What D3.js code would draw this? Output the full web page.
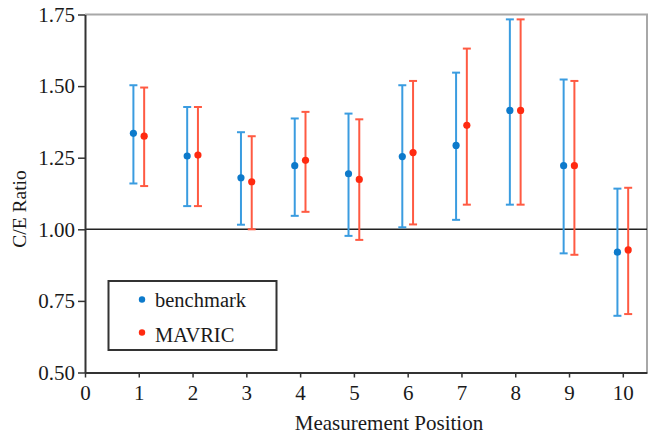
<!DOCTYPE html>
<html>
<head>
<meta charset="utf-8">
<script src="https://cdn.jsdelivr.net/npm/d3@7"></script>
<style>
  body { margin: 0; background: #fff; }
  text { font-family: "Liberation Serif", "Times New Roman", serif; fill: #1a1a1a; }
</style>
</head>
<body>
<div id="chart"></div>
<script>
// measurement positions
const positions = [1, 2, 3, 4, 5, 6, 7, 8, 9, 10];

// benchmark C/E ratio with error range
const benchMid  = [1.335, 1.256, 1.180, 1.222, 1.194, 1.254, 1.293, 1.415, 1.222, 0.920];
const benchLow  = [1.160, 1.081, 1.016, 1.047, 0.977, 1.007, 1.033, 1.086, 0.916, 0.698];
const benchHigh = [1.503, 1.427, 1.339, 1.387, 1.404, 1.503, 1.547, 1.733, 1.523, 1.142];

// MAVRIC C/E ratio with error range
const mavMid  = [1.325, 1.259, 1.166, 1.241, 1.174, 1.268, 1.363, 1.415, 1.222, 0.928];
const mavLow  = [1.151, 1.081, 1.000, 1.061, 0.963, 1.017, 1.086, 1.086, 0.911, 0.704];
const mavHigh = [1.495, 1.427, 1.325, 1.410, 1.384, 1.518, 1.631, 1.733, 1.518, 1.145];

const xTicks = [0, 1, 2, 3, 4, 5, 6, 7, 8, 9, 10];
const yTicks = [0.5, 0.75, 1.0, 1.25, 1.5, 1.75];

const W = 649, H = 434;
const margin = { top: 14.5, right: 2, bottom: 61.5, left: 85 };
const width = W - margin.left - margin.right,
      height = H - margin.top - margin.bottom;

const svg = d3.select("#chart").append("svg")
    .attr("width", W)
    .attr("height", H);

const x = d3.scaleLinear().domain([0, 10.45]).range([0, width]);
const y = d3.scaleLinear().domain([0.5, 1.75]).range([height, 0]);

const g = svg.append("g")
    .attr("transform", "translate(" + margin.left + "," + margin.top + ")");

// frame: top and right light gray
g.append("path")
    .attr("d", "M0,0H" + width + "V" + height)
    .attr("fill", "none")
    .attr("stroke", "#a8a8a8")
    .attr("stroke-width", 2);

// reference line at 1.0
g.append("line")
    .attr("x1", 0).attr("x2", width)
    .attr("y1", y(1)).attr("y2", y(1))
    .attr("stroke", "#222")
    .attr("stroke-width", 1.5);

const series = [
  { name: "benchmark", mid: benchMid, low: benchLow, high: benchHigh, off: -0.1, bar: "#3a9ce0", dot: "#0d7acb" },
  { name: "MAVRIC",    mid: mavMid,   low: mavLow,   high: mavHigh,   off: 0.1,  bar: "#ff5a42", dot: "#ff2a10" }
];

series.forEach(function(s) {
  const data = positions.map(function(p, i) {
    return { p: p, mid: s.mid[i], low: s.low[i], high: s.high[i] };
  });
  const grp = g.append("g").attr("class", "series");
  const eb = grp.selectAll(".eb").data(data).enter().append("g").attr("class", "eb");
  eb.append("line")
      .attr("x1", function(d) { return x(d.p + s.off); })
      .attr("x2", function(d) { return x(d.p + s.off); })
      .attr("y1", function(d) { return y(d.low); })
      .attr("y2", function(d) { return y(d.high); })
      .attr("stroke", s.bar).attr("stroke-width", 2);
  ["low", "high"].forEach(function(k) {
    eb.append("line")
        .attr("x1", function(d) { return x(d.p + s.off) - 4; })
        .attr("x2", function(d) { return x(d.p + s.off) + 4; })
        .attr("y1", function(d) { return y(d[k]); })
        .attr("y2", function(d) { return y(d[k]); })
        .attr("stroke", s.bar).attr("stroke-width", 2);
  });
  eb.append("circle")
      .attr("cx", function(d) { return x(d.p + s.off); })
      .attr("cy", function(d) { return y(d.mid); })
      .attr("r", 3.6)
      .attr("fill", s.dot);
});

// axes
const xAxis = g.append("g")
    .attr("transform", "translate(0," + height + ")")
    .call(d3.axisBottom(x).tickValues(xTicks).tickSize(5).tickSizeOuter(0).tickPadding(8));
const yAxis = g.append("g")
    .call(d3.axisLeft(y).tickValues(yTicks).tickSize(7).tickSizeOuter(0).tickPadding(3)
      .tickFormat(d3.format(".2f")));

[xAxis, yAxis].forEach(function(a) {
  a.select(".domain").attr("stroke", "#333").attr("stroke-width", 2);
  a.selectAll(".tick line").attr("stroke", "#333").attr("stroke-width", 1.5);
  a.selectAll(".tick text")
      .style("font-family", "Liberation Serif, serif")
      .style("font-size", "21px")
      .attr("fill", "#1a1a1a");
});
xAxis.selectAll(".tick text").attr("dy", "0.71em");

// axis titles
svg.append("text")
    .attr("x", 389)
    .attr("y", 430)
    .attr("text-anchor", "middle")
    .style("font-size", "21px")
    .text("Measurement Position");

svg.append("text")
    .attr("transform", "translate(26,209) rotate(-90)")
    .attr("text-anchor", "middle")
    .style("font-size", "19.5px")
    .text("C/E Ratio");

// legend
const legend = svg.append("g").attr("class", "legend");
legend.append("rect")
    .attr("x", 108.5).attr("y", 281)
    .attr("width", 168).attr("height", 69)
    .attr("fill", "#fff")
    .attr("stroke", "#333")
    .attr("stroke-width", 2);
series.forEach(function(s, i) {
  legend.append("circle")
      .attr("cx", 142).attr("cy", 299.5 + i * 33)
      .attr("r", 3.2)
      .attr("fill", s.dot);
  legend.append("text")
      .attr("x", 155).attr("y", 306.5 + i * 35)
      .style("font-size", "20.5px")
      .text(s.name);
});
</script>
</body>
</html>
